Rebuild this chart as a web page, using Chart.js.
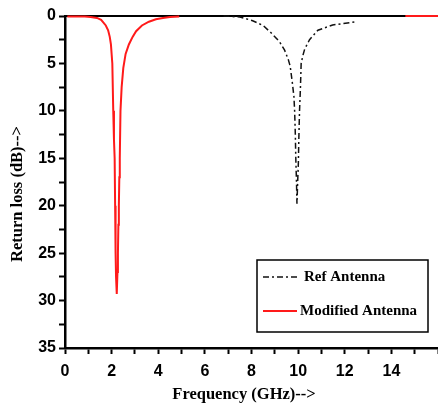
<!DOCTYPE html>
<html>
<head>
<meta charset="utf-8">
<script src="https://cdn.jsdelivr.net/npm/chart.js@4.4.1/dist/chart.umd.min.js"></script>
<style>
  html, body { margin: 0; padding: 0; background: #fff; }
  #wrap { width: 438px; height: 403px; }
</style>
</head>
<body>
<div id="wrap"><canvas id="graph" width="438" height="403"></canvas></div>
<script>
// Modified antenna (red), frequency in GHz and return loss in dB
const modFreq = [0.1, 0.5, 0.85, 1.1, 1.37, 1.55, 1.65, 1.75, 1.85, 1.92, 1.97, 2.03, 2.07, 2.1, 2.13, 2.15, 2.17, 2.19, 2.22, 2.25, 2.27, 2.29, 2.31, 2.33, 2.35, 2.38, 2.43, 2.5, 2.6, 2.74, 2.9, 3.05, 3.3, 3.6, 3.9, 4.2, 4.5, 4.9, null, 14.6, 16];
const modLoss = [0.05, 0.05, 0.05, 0.1, 0.2, 0.4, 0.7, 1.0, 1.5, 2.2, 3, 5, 10, 13, 15, 20, 25, 27.5, 29.3, 27, 25, 22, 20, 17, 15, 10, 7.5, 5.5, 4, 3, 2.2, 1.6, 1.0, 0.6, 0.35, 0.2, 0.1, 0.05, null, 0, 0];

// Reference antenna (black dash-dot)
const refFreq = [6.8, 7.5, 8.05, 8.5, 8.85, 9.2, 9.42, 9.58, 9.66, 9.75, 9.82, 9.85, 9.88, 9.9, 9.93, 9.95, 9.98, 10.01, 10.03, 10.06, 10.1, 10.13, 10.2, 10.28, 10.49, 10.85, 11.48, 12.5];
const refLoss = [0, 0.1, 0.5, 1.0, 1.8, 2.7, 3.6, 4.6, 5.3, 7, 8.5, 10, 12.5, 15, 17.5, 19.8, 17.5, 15.5, 13, 10, 7.5, 5, 4.2, 3.5, 2.5, 1.5, 0.95, 0.6];

const seriesNames = ['Ref Antenna', 'Modified Antenna'];
const xTitle = 'Frequency (GHz)-->';
const yTitle = 'Return loss (dB)-->';

const toPoints = (xs, ys) => xs.map((x, i) => (x === null ? { x: NaN, y: null } : { x: x, y: ys[i] }));

const tickFont = { family: "'Liberation Sans', Arial, sans-serif", size: 16, weight: 'bold' };
const serifBold = "bold 16.5px 'Liberation Serif', 'Times New Roman', serif";

// black line along the top of the plot
const topLine = {
    id: 'topLine',
    beforeDatasetsDraw(chart) {
        const { ctx, chartArea } = chart;
        ctx.save();
        ctx.strokeStyle = '#000';
        ctx.lineWidth = 2;
        ctx.beginPath();
        ctx.moveTo(chartArea.left, chartArea.top);
        ctx.lineTo(chartArea.right, chartArea.top);
        ctx.stroke();
        ctx.restore();
    }
};

// axis titles
const axisTitles = {
    id: 'axisTitles',
    afterDraw(chart) {
        const { ctx, chartArea } = chart;
        ctx.save();
        ctx.font = serifBold;
        ctx.fillStyle = '#000';
        ctx.textAlign = 'center';
        ctx.textBaseline = 'middle';
        ctx.fillText(xTitle, chartArea.left + 179, chartArea.bottom + 47);
        ctx.translate(18, chartArea.top + 178);
        ctx.rotate(-Math.PI / 2);
        ctx.fillText(yTitle, 0, 0);
        ctx.restore();
    }
};

// boxed legend inside the plot, lower right
const boxLegend = {
    id: 'boxLegend',
    afterDraw(chart) {
        const { ctx, chartArea } = chart;
        const w = 171, h = 72;
        const x0 = chartArea.right - 10 - w;
        const y0 = chartArea.bottom - 16 - h;
        ctx.save();
        ctx.fillStyle = '#fff';
        ctx.fillRect(x0, y0, w, h);
        ctx.strokeStyle = '#000';
        ctx.lineWidth = 1.5;
        ctx.strokeRect(x0, y0, w, h);
        ctx.font = "bold 15px 'Liberation Serif', 'Times New Roman', serif";
        ctx.textBaseline = 'middle';
        ctx.fillStyle = '#000';
        chart.data.datasets.forEach((ds, i) => {
            const yy = y0 + 17 + i * 34;
            ctx.strokeStyle = ds.borderColor;
            ctx.lineWidth = ds.borderWidth;
            ctx.setLineDash(ds.borderDash || []);
            ctx.beginPath();
            ctx.moveTo(x0 + 6, yy);
            ctx.lineTo(x0 + 40, yy);
            ctx.stroke();
            ctx.setLineDash([]);
            ctx.fillText(ds.label, x0 + (i === 0 ? 47 : 43), yy);
        });
        ctx.restore();
    }
};

new Chart(document.getElementById('graph').getContext('2d'), {
    type: 'line',
    data: {
        datasets: [
            {
                label: seriesNames[0],
                data: toPoints(refFreq, refLoss),
                borderColor: '#111',
                borderWidth: 1.5,
                borderDash: [6, 3, 2, 3],
                pointRadius: 0,
                tension: 0,
                clip: false
            },
            {
                label: seriesNames[1],
                data: toPoints(modFreq, modLoss),
                borderColor: '#ff1a1a',
                borderWidth: 2,
                pointRadius: 0,
                tension: 0,
                spanGaps: false,
                clip: false
            }
        ]
    },
    options: {
        responsive: false,
        devicePixelRatio: 1,
        animation: false,
        layout: { padding: { top: 16, right: 0, left: 0, bottom: 0 } },
        plugins: {
            legend: { display: false },
            tooltip: { enabled: false }
        },
        scales: {
            x: {
                type: 'linear',
                min: 0,
                max: 16,
                afterFit: (s) => { s.height = 55; s.paddingRight = 0; s.paddingLeft = 0; },
                ticks: {
                    stepSize: 1,
                    autoSkip: false,
                    maxRotation: 0,
                    color: '#000',
                    font: tickFont,
                    padding: 8,
                    callback: (v) => (v % 2 === 0 && v < 16 ? v : '')
                },
                grid: { drawOnChartArea: false, drawTicks: true, tickLength: 6, tickColor: '#000', tickWidth: 2 },
                border: { display: true, color: '#000', width: 2.5 }
            },
            y: {
                type: 'linear',
                min: 0,
                max: 35,
                reverse: true,
                afterFit: (s) => { s.width = 65; },
                ticks: {
                    stepSize: 2.5,
                    autoSkip: false,
                    color: '#000',
                    font: tickFont,
                    padding: 3,
                    callback: (v) => (v % 5 === 0 ? v : '')
                },
                grid: { drawOnChartArea: false, drawTicks: true, tickLength: 6, tickColor: '#000', tickWidth: 2 },
                border: { display: true, color: '#000', width: 2.5 }
            }
        }
    },
    plugins: [topLine, axisTitles, boxLegend]
});
</script>
</body>
</html>
